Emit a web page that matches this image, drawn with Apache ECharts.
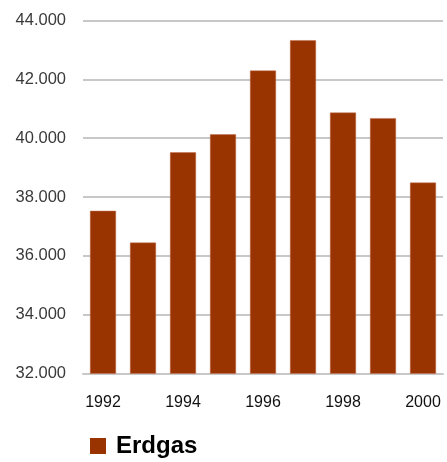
<!DOCTYPE html>
<html><head><meta charset="utf-8">
<script src="https://cdn.jsdelivr.net/npm/echarts@6/dist/echarts.min.js"></script>
<style>html,body{margin:0;padding:0;background:#fff}#c{width:447px;height:462px}</style>
</head><body><div id="c"></div>
<script>
var years = ['1992','1993','1994','1995','1996','1997','1998','1999','2000'];
var erdgas = [37530, 36450, 39520, 40130, 42300, 43330, 40870, 40680, 38490];
var seriesName = 'Erdgas';
var chart = echarts.init(document.getElementById('c'));
chart.setOption({
  animation: false,
  grid: {left: 83, right: 4, top: 20.5, bottom: 88.5},
  legend: {
    data: [seriesName], left: 85, top: 429, icon: 'rect', itemWidth: 16, itemHeight: 16, itemGap: 8,
    itemStyle: {borderWidth: 0},
    textStyle: {fontFamily: 'Liberation Sans', fontWeight: 'bold', fontSize: 24, color: '#000', padding: [0, 0, 0, 5]}
  },
  xAxis: {
    type: 'category', data: years,
    axisLine: {show: true, lineStyle: {color: '#c8c8c8', width: 2}},
    axisTick: {show: false},
    axisLabel: {interval: 1, margin: 21, fontFamily: 'Liberation Sans', fontSize: 16, color: '#111'}
  },
  yAxis: {
    type: 'value', min: 32000, max: 44000, interval: 2000,
    axisLine: {show: false}, axisTick: {show: false},
    splitLine: {lineStyle: {color: '#c8c8c8', width: 2}},
    axisLabel: {margin: 17, fontFamily: 'Liberation Sans', fontSize: 16.5, color: '#3a3a3a',
      formatter: function (v) { return (v / 1000).toFixed(3); }}
  },
  series: [{
    name: seriesName, type: 'bar', data: erdgas, barCategoryGap: '35%',
    itemStyle: {color: '#993300', borderColor: '#c07050', borderWidth: 0.5}
  }]
});
</script></body></html>
